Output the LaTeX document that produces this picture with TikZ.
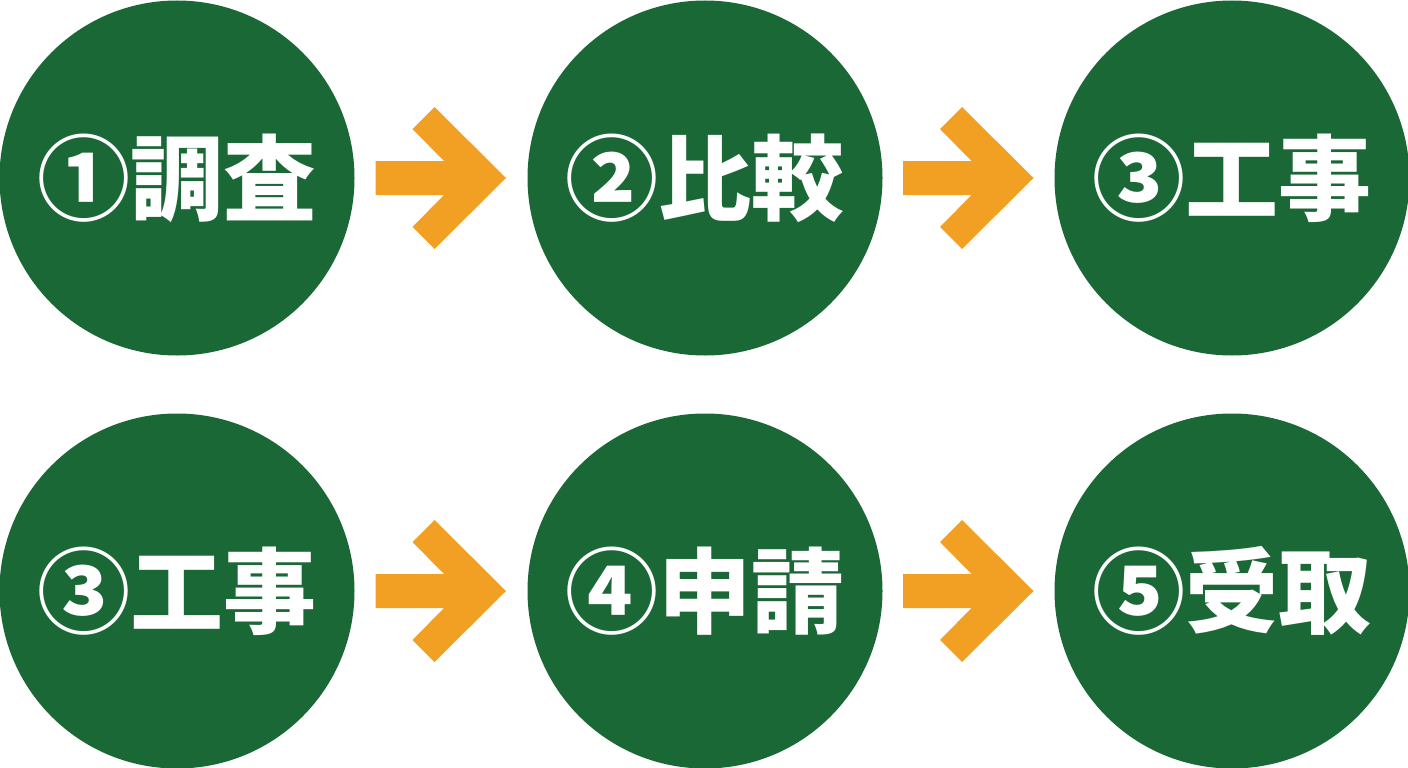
\documentclass[tikz,border=0pt]{standalone}
\usepackage{fontspec}
\newfontfamily\cjk{Noto Sans CJK JP}
\usetikzlibrary{calc}
\definecolor{stepgreen}{RGB}{27,104,55}
\definecolor{arroworange}{RGB}{242,160,36}
\tikzset{
  stepcircle/.style={circle, fill=stepgreen, minimum size=355pt, inner sep=0pt,
    text=white, font=\cjk\bfseries\fontsize{93}{93}\selectfont},
  flowarrow/.pic={
    \fill[arroworange] (-65.5,-17) -- (3,-17) -- (-28.5,-49) -- (-6.5,-71) -- (65,0)
      -- (-6.5,71) -- (-28.5,49) -- (3,17) -- (-65.5,17) -- cycle;
  }
}
\begin{document}
\begin{tikzpicture}[x=1pt,y=-1pt]
\useasboundingbox (0,0) rectangle (1408,768);
\node[stepcircle] (c1) at (177,178) {①調査};
\node[stepcircle] (c2) at (705,178) {②比較};
\node[stepcircle] (c3) at (1232,178) {③工事};
\node[stepcircle] (c4) at (177,591) {③工事};
\node[stepcircle] (c5) at (705,591) {④申請};
\node[stepcircle] (c6) at (1232,591) {⑤受取};
\path ($(c1.east)!0.5!(c2.west)$) pic {flowarrow};
\path ($(c2.east)!0.5!(c3.west)$) pic {flowarrow};
\path ($(c4.east)!0.5!(c5.west)$) pic {flowarrow};
\path ($(c5.east)!0.5!(c6.west)$) pic {flowarrow};
\end{tikzpicture}
\end{document}
